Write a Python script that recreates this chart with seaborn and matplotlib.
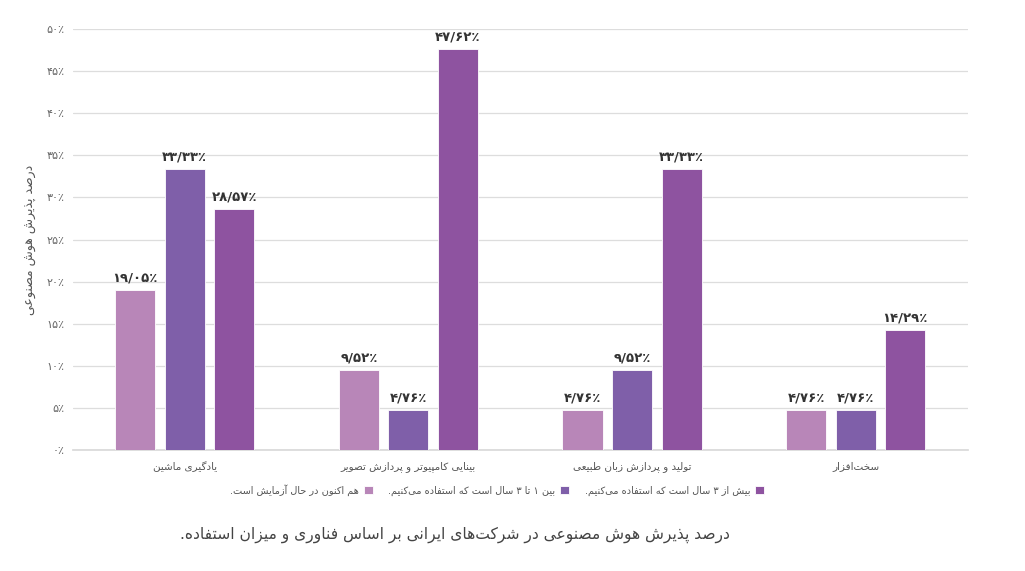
import matplotlib
matplotlib.use("Agg")
import matplotlib.pyplot as plt
import seaborn as sns
import pandas as pd

# ---------------- data ----------------
categories = ["یادگیری ماشین", "بینایی کامپیوتر و پردازش تصویر",
              "تولید و پردازش زبان طبیعی", "سخت‌افزار"]
series_names = ["هم اکنون در حال آزمایش است.",
                "بین ۱ تا ۳ سال است که استفاده می‌کنیم.",
                "بیش از ۳ سال است که استفاده می‌کنیم."]
testing_now = [19.05, 9.52, 4.76, 4.76]
one_to_three = [33.33, 4.76, 9.52, 4.76]
over_three = [28.57, 47.62, 33.33, 14.29]
y_ticks = [0, 5, 10, 15, 20, 25, 30, 35, 40, 45, 50]
y_label = "درصد پذیرش هوش مصنوعی"
caption = "درصد پذیرش هوش مصنوعی در شرکت‌های ایرانی بر اساس فناوری و میزان استفاده."
colors = ["#B886B8", "#7F5FA9", "#8E53A0"]

# ---------------- simple Persian shaping + bidi ----------------
FORMS = {  # isolated, final, initial, medial
    'ء': ('\uFE80', None, None, None),
    'آ': ('\uFE81', '\uFE82', None, None),
    'أ': ('\uFE83', '\uFE84', None, None),
    'ؤ': ('\uFE85', '\uFE86', None, None),
    'إ': ('\uFE87', '\uFE88', None, None),
    'ئ': ('\uFE89', '\uFE8A', '\uFE8B', '\uFE8C'),
    'ا': ('\uFE8D', '\uFE8E', None, None),
    'ب': ('\uFE8F', '\uFE90', '\uFE91', '\uFE92'),
    'ة': ('\uFE93', '\uFE94', None, None),
    'ت': ('\uFE95', '\uFE96', '\uFE97', '\uFE98'),
    'ث': ('\uFE99', '\uFE9A', '\uFE9B', '\uFE9C'),
    'ج': ('\uFE9D', '\uFE9E', '\uFE9F', '\uFEA0'),
    'ح': ('\uFEA1', '\uFEA2', '\uFEA3', '\uFEA4'),
    'خ': ('\uFEA5', '\uFEA6', '\uFEA7', '\uFEA8'),
    'د': ('\uFEA9', '\uFEAA', None, None),
    'ذ': ('\uFEAB', '\uFEAC', None, None),
    'ر': ('\uFEAD', '\uFEAE', None, None),
    'ز': ('\uFEAF', '\uFEB0', None, None),
    'س': ('\uFEB1', '\uFEB2', '\uFEB3', '\uFEB4'),
    'ش': ('\uFEB5', '\uFEB6', '\uFEB7', '\uFEB8'),
    'ص': ('\uFEB9', '\uFEBA', '\uFEBB', '\uFEBC'),
    'ض': ('\uFEBD', '\uFEBE', '\uFEBF', '\uFEC0'),
    'ط': ('\uFEC1', '\uFEC2', '\uFEC3', '\uFEC4'),
    'ظ': ('\uFEC5', '\uFEC6', '\uFEC7', '\uFEC8'),
    'ع': ('\uFEC9', '\uFECA', '\uFECB', '\uFECC'),
    'غ': ('\uFECD', '\uFECE', '\uFECF', '\uFED0'),
    'ف': ('\uFED1', '\uFED2', '\uFED3', '\uFED4'),
    'ق': ('\uFED5', '\uFED6', '\uFED7', '\uFED8'),
    'ك': ('\uFED9', '\uFEDA', '\uFEDB', '\uFEDC'),
    'ل': ('\uFEDD', '\uFEDE', '\uFEDF', '\uFEE0'),
    'م': ('\uFEE1', '\uFEE2', '\uFEE3', '\uFEE4'),
    'ن': ('\uFEE5', '\uFEE6', '\uFEE7', '\uFEE8'),
    'ه': ('\uFEE9', '\uFEEA', '\uFEEB', '\uFEEC'),
    'و': ('\uFEED', '\uFEEE', None, None),
    'ى': ('\uFEEF', '\uFEF0', None, None),
    'ي': ('\uFEF1', '\uFEF2', '\uFEF3', '\uFEF4'),
    'پ': ('\uFB56', '\uFB57', '\uFB58', '\uFB59'),
    'چ': ('\uFB7A', '\uFB7B', '\uFB7C', '\uFB7D'),
    'ژ': ('\uFB8A', '\uFB8B', None, None),
    'ک': ('\uFB8E', '\uFB8F', '\uFB90', '\uFB91'),
    'گ': ('\uFB92', '\uFB93', '\uFB94', '\uFB95'),
    'ی': ('\uFBFC', '\uFBFD', '\uFBFE', '\uFBFF'),
}
LAM_ALEF = {'ا': ('\uFEFB', '\uFEFC'), 'آ': ('\uFEF5', '\uFEF6'),
            'أ': ('\uFEF7', '\uFEF8'), 'إ': ('\uFEF9', '\uFEFA')}


def _dual(c):
    return c in FORMS and FORMS[c][2] is not None


def shape(text):
    chars = list(text)
    out = []
    i = 0
    n = len(chars)
    while i < n:
        c = chars[i]
        if c not in FORMS:
            out.append(c)
            i += 1
            continue
        prev = chars[i - 1] if i > 0 else None
        join_prev = prev is not None and _dual(prev)
        if c == 'ل' and i + 1 < n and chars[i + 1] in LAM_ALEF:
            iso, fin = LAM_ALEF[chars[i + 1]]
            out.append(fin if join_prev else iso)
            i += 2
            continue
        nxt = chars[i + 1] if i + 1 < n else None
        join_next = _dual(c) and nxt is not None and nxt in FORMS
        iso, fin, ini, med = FORMS[c]
        if join_prev and join_next:
            out.append(med)
        elif join_prev:
            out.append(fin or iso)
        elif join_next:
            out.append(ini)
        else:
            out.append(iso)
        i += 1
    s = ''.join(out).replace('\u200c', '')
    # simple bidi: reverse, keeping runs of digits in order
    ltr = set('0123456789۰۱۲۳۴۵۶۷۸۹/٪%')
    runs = []
    cur = ''
    cur_ltr = None
    for ch in s:
        is_l = ch in ltr
        if cur and is_l != cur_ltr:
            runs.append((cur, cur_ltr))
            cur = ''
        cur += ch
        cur_ltr = is_l
    if cur:
        runs.append((cur, cur_ltr))
    res = []
    for r, is_l in reversed(runs):
        res.append(r if is_l else r[::-1])
    return ''.join(res)


FA_DIGITS = str.maketrans('0123456789', '۰۱۲۳۴۵۶۷۸۹')


def fa_pct(v, dec=True):
    s = f"{v:.2f}".replace('.', '/') if dec else f"{v:g}"
    return s.translate(FA_DIGITS) + '٪'


# ---------------- figure ----------------
sns.set_theme(style="white")
plt.rcParams['font.family'] = ['DejaVu Sans']

rows = []
for cat, a, b, c in zip(categories, testing_now, one_to_three, over_three):
    rows.append((cat, series_names[0], a))
    rows.append((cat, series_names[1], b))
    rows.append((cat, series_names[2], c))
df = pd.DataFrame(rows, columns=["category", "series", "value"])

fig = plt.figure(figsize=(10.25, 5.71), dpi=100)
ax = fig.add_axes([0.071, 0.212, 0.873, 0.737])

sns.barplot(data=df, x="category", y="value", hue="series",
            order=categories, hue_order=series_names, palette=colors,
            width=0.664, gap=0.19, saturation=1, ax=ax,
            edgecolor="white", linewidth=0.6, errorbar=None, zorder=3)

ax.set_ylim(0, 50)
ax.set_xlim(-0.5, len(categories) - 0.5)
ax.set_yticks(y_ticks)
ax.set_yticklabels([fa_pct(t, dec=False) for t in y_ticks], fontsize=8, color="#666666")
ax.yaxis.grid(True, color="#dddddd", linewidth=0.9, zorder=0)
ax.set_axisbelow(True)
for sp in ["top", "right", "left"]:
    ax.spines[sp].set_visible(False)
ax.spines["bottom"].set_color("#d9d9d9")
ax.tick_params(axis="y", length=0, pad=6)
ax.set_xticks(range(len(categories)))
ax.set_xticklabels([shape(c) for c in categories], fontsize=7.5, color="#555555")
ax.tick_params(axis="x", length=0, pad=8)
ax.set_xlabel("")
ax.set_ylabel(shape(y_label), fontsize=9, color="#555555", labelpad=7)

series_values = [testing_now, one_to_three, over_three]
for cont, vals in zip(ax.containers, series_values):
    ax.bar_label(cont, labels=[fa_pct(v) for v in vals], padding=4,
                 fontsize=9.5, fontweight="bold", color="#333333")

handles, labels = ax.get_legend_handles_labels()
if ax.legend_ is not None:
    ax.legend_.remove()
fig.legend(handles, [shape(l) for l in labels], loc="center",
           bbox_to_anchor=(0.485, 0.142), ncol=3, frameon=False,
           markerfirst=False, fontsize=7, handlelength=0.9, handleheight=0.9,
           columnspacing=1.6, handletextpad=0.5, labelcolor="#555555")

fig.text(0.444, 0.063, shape(caption), ha="center", va="center",
         fontsize=11.2, color="#444444")

fig.savefig("out.png", dpi=100)
